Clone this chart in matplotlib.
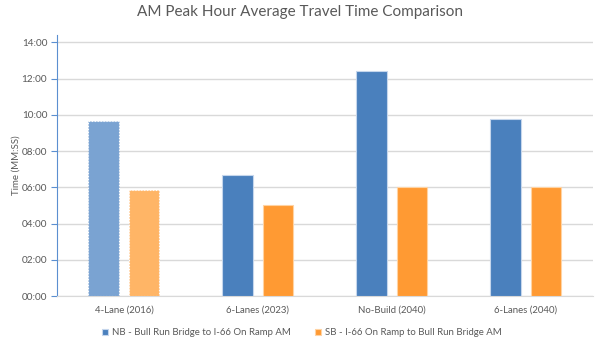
import matplotlib
matplotlib.use('Agg')
import matplotlib.pyplot as plt
from matplotlib.ticker import FuncFormatter
import numpy as np

plt.rcParams['font.family'] = ['Lato', 'DejaVu Sans']

# travel times in minutes
categories = ['4-Lane (2016)', '6-Lanes (2023)', 'No-Build (2040)', '6-Lanes (2040)']
nb_times = [9.65, 6.67, 12.43, 9.75]
sb_times = [5.83, 5.0, 6.0, 6.0]
nb_label = 'NB - Bull Run Bridge to I-66 On Ramp AM'
sb_label = 'SB - I-66 On Ramp to Bull Run Bridge AM'

blue = '#4a80bd'
orange = '#ff9a33'
blue_light = '#7aa3d2'
orange_light = '#ffb566'
grey_text = '#595959'

fig = plt.figure(figsize=(6, 3.4), dpi=100)
ax = fig.add_axes([0.095, 0.129, 0.893, 0.768])

x = np.arange(len(categories))
w = 0.23
off = 0.15

nb_cols = [blue_light] + [blue] * (len(categories) - 1)
sb_cols = [orange_light] + [orange] * (len(categories) - 1)

nb_bars = ax.bar(x - off, nb_times, w, color=nb_cols, edgecolor='#c5d6ec', linewidth=0.8, label=nb_label, zorder=3)
sb_bars = ax.bar(x + off, sb_times, w, color=sb_cols, edgecolor='#ffd3a3', linewidth=0.8, label=sb_label, zorder=3)
# the 2016 existing-condition bars are drawn with a dotted outline
for b in (nb_bars[0], sb_bars[0]):
    b.set_linestyle(':')
    b.set_edgecolor('white')

ax.set_xlim(-0.5, len(categories) - 0.5)
ax.set_ylim(0, 14.4)
ax.set_yticks(np.arange(0, 15, 2))
ax.yaxis.set_major_formatter(FuncFormatter(lambda v, p: '%02d:%02d' % (int(v), round((v - int(v)) * 60))))
ax.set_xticks(x)
ax.set_xticklabels(categories)

ax.grid(axis='y', color='#d9d9d9', linewidth=1, zorder=0)
for s in ['top', 'right']:
    ax.spines[s].set_visible(False)
ax.spines['left'].set_color('#5b8fd0')
ax.spines['bottom'].set_color('#d9d9d9')
ax.tick_params(axis='y', length=4, color='#5b8fd0', labelsize=7.2, labelcolor=grey_text, pad=3)
ax.tick_params(axis='x', length=0, labelsize=6.9, labelcolor=grey_text, pad=7)

ax.set_ylabel('Time (MM:SS)', fontsize=7, color=grey_text, labelpad=1)
fig.suptitle('AM Peak Hour Average Travel Time Comparison', x=0.5, y=0.985, fontsize=11, color=grey_text)

leg = fig.legend(handles=[nb_bars[1], sb_bars[1]], labels=[nb_label, sb_label], loc='lower center',
                 bbox_to_anchor=(0.503, -0.018), ncol=2, frameon=False, fontsize=6.9,
                 handlelength=0.6, handleheight=0.6, handletextpad=0.4, columnspacing=2.6)
for t in leg.get_texts():
    t.set_color(grey_text)

fig.savefig('out.png', dpi=100)
